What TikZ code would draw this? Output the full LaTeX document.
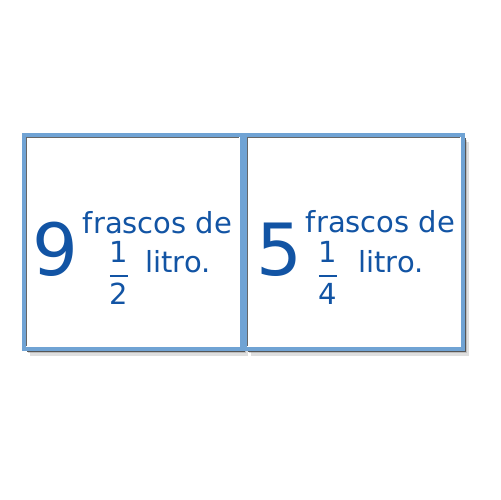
\documentclass[tikz,border=0pt]{standalone}
\usepackage{amsmath}
\usepackage{fontspec}
\setmainfont{DejaVu Sans}
\usetikzlibrary{positioning, shadows}
\definecolor{inkblue}{RGB}{18,84,164}
\definecolor{frameblue}{RGB}{112,163,212}
\tikzstyle{frame} = [rectangle, minimum width=4.36cm, minimum height=4.28cm, inner sep=0pt, outer sep=0pt, draw=frameblue, line width=0.08cm, fill=white, drop shadow={shadow xshift=0.12cm, shadow yshift=-0.14cm, opacity=0.25}, drop shadow={shadow xshift=0.08cm, shadow yshift=-0.09cm, opacity=0.35}, drop shadow={shadow xshift=0.06cm, shadow yshift=-0.06cm, opacity=0.9, fill=black!70}]
\tikzstyle{bevel} = [line width=0.025cm, black!60]
\tikzstyle{qty} = [font=\fontsize{41}{48}\selectfont, text=inkblue, inner sep=0pt, anchor=base]
\tikzstyle{phrase} = [font=\fontsize{16.5}{19}\selectfont, text=inkblue, inner sep=0pt]

\begin{document}
\begin{tikzpicture}[x=0.02cm, y=-0.02cm]
    \useasboundingbox (0,0) rectangle (500,500);

    % Boxes
    \node[frame] (halfbox) at (133,242) {};
    \node[frame, right=0.06cm of halfbox] (quarterbox) {};
    \foreach \b in {halfbox, quarterbox}
        \draw[bevel] ([shift={(0.05cm,0.05cm)}]\b.south west) |- ([shift={(-0.05cm,-0.05cm)}]\b.north east);

    % Left box
    \node[qty] (nine) at (55.5,275) {9};
    \node[phrase, anchor=base] (jarsA) at (157.5,233) {frascos de};
    \node[phrase] (halfA) at (119,273) {$\genfrac{}{}{1.1pt}{0}{\text{1}}{\text{2}}$};
    \node[phrase, anchor=base west] (litreA) at (145,272) {litro.};

    % Right box
    \node[qty] (five) at (279.5,275) {5};
    \node[phrase, anchor=base] (jarsB) at (380.5,232) {frascos de};
    \node[phrase] (quarterB) at (328,273) {$\genfrac{}{}{1.1pt}{0}{\text{1}}{\text{4}}$};
    \node[phrase, anchor=base west] (litreB) at (358,272) {litro.};

\end{tikzpicture}
\end{document}
